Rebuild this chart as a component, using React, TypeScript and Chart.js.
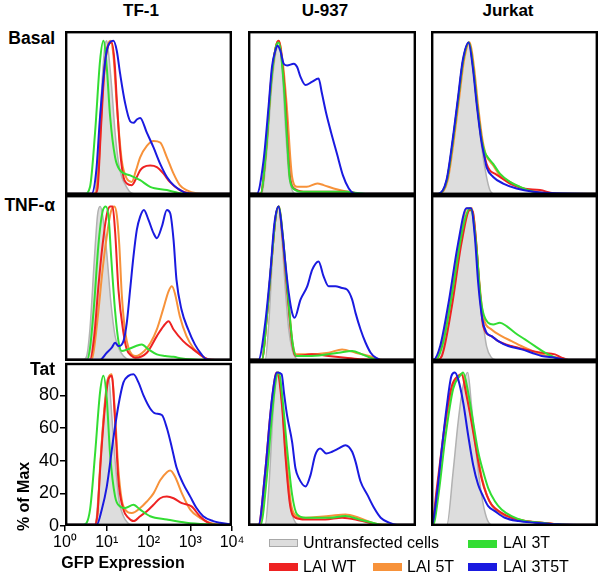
import React, { useEffect, useRef } from 'react';
import { Chart, registerables } from 'chart.js';
Chart.register(...registerables);

const FONT = '"Liberation Sans", Arial, Helvetica, sans-serif';
Chart.defaults.font.family = FONT;

type P = [number, number]; // [log10 GFP, % of max]

const CELL_LINES = ['TF-1', 'U-937', 'Jurkat'];
const CONDITIONS = ['Basal', 'TNF-α', 'Tat'];
const SERIES_NAMES = ['Untransfected cells', 'LAI WT', 'LAI 5T', 'LAI 3T', 'LAI 3T5T'];
const X_TICKS = [1, 10, 100, 1000, 10000];
const Y_TICKS = [0, 20, 40, 60, 80];
const X_TITLE = 'GFP Expression';
const Y_TITLE = '% of Max';

// ---------- TF-1 ----------
const TF1_BASAL_UNT: P[] = [[0,0.8],[0.7,0.8],[0.8,25],[0.88,65],[0.95,90],[1.0,94],[1.05,85],[1.12,65],[1.2,38],[1.28,20],[1.36,11],[1.45,6],[1.55,2],[1.65,0.8],[4,0.8]];
const TF1_BASAL_WT: P[] = [[0,0.8],[0.72,0.8],[0.78,4],[0.86,40],[0.95,78],[1.05,92],[1.12,93],[1.19,80],[1.24,58],[1.32,27],[1.4,11],[1.48,7],[1.6,6],[1.72,11],[1.8,15],[1.88,17],[2.04,18],[2.2,17],[2.36,13],[2.51,8],[2.75,3],[2.99,1],[3.1,0.8],[4,0.8]];
const TF1_BASAL_5T: P[] = [[0,0.8],[0.72,0.8],[0.8,15],[0.9,62],[1.0,88],[1.08,94],[1.16,85],[1.24,55],[1.36,21],[1.48,10],[1.6,8],[1.7,15],[1.8,23],[1.96,30],[2.12,33],[2.28,32],[2.44,23],[2.6,13],[2.75,6],[2.91,3],[3.15,1],[3.3,0.8],[4,0.8]];
const TF1_BASAL_3T: P[] = [[0,0.8],[0.48,0.8],[0.6,5],[0.72,38],[0.84,82],[0.92,94],[1.0,78],[1.08,48],[1.2,23],[1.32,15],[1.56,12],[1.8,9],[2.04,5],[2.44,3],[2.68,1.5],[2.85,0.8],[4,0.8]];
const TF1_BASAL_3T5T: P[] = [[0,0.8],[0.64,0.8],[0.75,15],[0.84,48],[1.0,88],[1.16,94],[1.24,88],[1.32,74],[1.44,56],[1.56,45],[1.64,44],[1.72,46],[1.8,47],[1.96,38],[2.12,29],[2.28,19],[2.44,11],[2.6,6],[2.76,3],[2.92,1],[3.1,0.8],[4,0.8]];

const TF1_TNF_UNT: P[] = [[0,0.8],[0.45,0.8],[0.52,3],[0.6,20],[0.7,60],[0.78,88],[0.84,93],[0.9,88],[1.0,65],[1.1,35],[1.2,15],[1.3,7],[1.4,3],[1.55,0.8],[4,0.8]];
const TF1_TNF_WT: P[] = [[0,0.8],[0.6,0.8],[0.7,15],[0.8,45],[0.9,70],[1.0,88],[1.08,93],[1.14,93],[1.2,78],[1.28,43],[1.4,17],[1.48,7],[1.6,3],[1.68,2],[1.96,5],[2.2,15],[2.36,21],[2.48,24],[2.6,19],[2.83,12],[3.07,7],[3.23,4],[3.43,1],[3.6,0.8],[4,0.8]];
const TF1_TNF_5T: P[] = [[0,0.8],[0.64,0.8],[0.7,8],[0.8,30],[0.9,55],[1.0,75],[1.1,90],[1.18,93],[1.24,88],[1.3,70],[1.36,40],[1.44,18],[1.52,8],[1.6,4],[1.7,3],[1.9,6],[2.05,11],[2.2,19],[2.36,32],[2.48,42],[2.56,45],[2.63,41],[2.75,27],[2.91,15],[3.07,8],[3.23,4],[3.43,1],[3.6,0.8],[4,0.8]];
const TF1_TNF_3T: P[] = [[0,0.8],[0.53,0.8],[0.6,8],[0.7,35],[0.8,70],[0.9,90],[0.98,93],[1.05,85],[1.1,65],[1.2,30],[1.28,12],[1.36,6],[1.5,7],[1.7,9],[1.84,10],[2.0,7],[2.2,4],[2.4,3],[2.6,2.5],[2.8,1.5],[3.0,1],[3.2,0.8],[4,0.8]];
const TF1_TNF_3T5T: P[] = [[0,0.8],[0.84,0.8],[1.0,5],[1.12,8],[1.2,11],[1.28,9],[1.4,12],[1.48,23],[1.56,43],[1.64,63],[1.72,79],[1.8,87],[1.89,91],[2.0,85],[2.12,77],[2.2,74],[2.32,81],[2.44,91],[2.52,89],[2.6,73],[2.67,49],[2.79,31],[2.95,19],[3.11,10],[3.27,4],[3.39,1],[3.5,0.8],[4,0.8]];

const TF1_TAT_UNT: P[] = [[0,0.8],[0.72,0.8],[0.8,20],[0.9,60],[1.0,88],[1.05,91],[1.1,75],[1.2,40],[1.3,15],[1.4,6],[1.5,2],[1.6,0.8],[4,0.8]];
const TF1_TAT_WT: P[] = [[0,0.8],[0.72,0.8],[0.78,8],[0.84,34],[0.96,74],[1.04,90],[1.12,92],[1.2,64],[1.28,28],[1.4,10],[1.52,5],[1.64,3],[1.8,6],[1.96,9],[2.12,13],[2.28,17],[2.44,18],[2.6,17],[2.8,14],[3.03,12],[3.23,6],[3.43,2],[3.63,0.8],[4,0.8]];
const TF1_TAT_5T: P[] = [[0,0.8],[0.72,0.8],[0.78,8],[0.84,36],[0.96,76],[1.04,91],[1.12,93],[1.2,68],[1.28,34],[1.4,12],[1.6,8],[1.8,11],[1.96,15],[2.12,20],[2.28,28],[2.44,33],[2.52,34],[2.64,30],[2.8,20],[3.0,10],[3.23,5],[3.47,2],[3.71,0.8],[4,0.8]];
const TF1_TAT_3T: P[] = [[0,0.8],[0.44,0.8],[0.6,10],[0.72,44],[0.84,82],[0.92,92],[1.0,78],[1.08,44],[1.2,18],[1.32,12],[1.44,11],[1.64,13],[1.8,10],[2.04,6],[2.44,4],[2.91,2],[3.39,1],[3.6,0.8],[4,0.8]];
const TF1_TAT_3T5T: P[] = [[0,0.8],[0.76,0.8],[0.88,10],[1.0,24],[1.16,54],[1.28,74],[1.4,88],[1.52,92],[1.64,93],[1.76,88],[1.88,80],[2.04,72],[2.16,69],[2.32,68],[2.44,60],[2.56,48],[2.67,36],[2.83,26],[3.0,18],[3.15,11],[3.31,6],[3.55,3],[3.71,2],[4,1]];

// ---------- U-937 ----------
const U937_BASAL_UNT: P[] = [[0,0.8],[0.33,0.8],[0.45,27],[0.57,68],[0.67,88],[0.73,93],[0.81,78],[0.89,42],[0.97,13],[1.05,3],[1.13,0.8],[4,0.8]];
const U937_BASAL_WT: P[] = [[0,0.8],[0.3,0.8],[0.43,28],[0.55,70],[0.66,90],[0.73,94],[0.82,80],[0.89,58],[1.0,11],[1.13,3.5],[1.4,2],[2.44,2],[2.6,0.8],[4,0.8]];
const U937_BASAL_5T: P[] = [[0,0.8],[0.3,0.8],[0.43,27],[0.55,68],[0.66,90],[0.73,94],[0.84,78],[0.93,52],[1.05,11],[1.17,5],[1.4,5],[1.65,7],[1.8,6],[2.04,4],[2.36,2],[2.6,0.8],[4,0.8]];
const U937_BASAL_3T: P[] = [[0,0.8],[0.3,0.8],[0.43,27],[0.55,68],[0.66,90],[0.73,93],[0.85,68],[0.93,34],[1.0,9],[1.13,3],[1.25,2],[1.65,2],[2.36,2],[2.52,1.5],[2.84,0.8],[4,0.8]];
const U937_BASAL_3T5T: P[] = [[0,0.8],[0.21,0.8],[0.37,21],[0.49,54],[0.57,78],[0.65,88],[0.7,91],[0.77,88],[0.85,80],[0.93,79],[1.09,80],[1.17,78],[1.25,72],[1.37,67],[1.52,69],[1.68,71],[1.76,62],[1.86,50],[1.98,38],[2.12,25],[2.26,12],[2.4,4],[2.52,1],[2.6,0.8],[4,0.8]];

const U937_TNF_UNT: P[] = [[0,0.8],[0.41,0.8],[0.5,25],[0.6,70],[0.68,90],[0.73,93],[0.81,73],[0.89,43],[0.97,19],[1.05,7],[1.13,2],[1.2,0.8],[4,0.8]];
const U937_TNF_WT: P[] = [[0,0.8],[0.33,0.8],[0.45,27],[0.57,63],[0.66,87],[0.73,93],[0.82,75],[0.93,43],[1.05,11],[1.13,3],[1.52,4],[1.92,3],[2.32,2],[2.72,1],[3.0,0.8],[4,0.8]];
const U937_TNF_5T: P[] = [[0,0.8],[0.33,0.8],[0.45,27],[0.57,63],[0.66,87],[0.74,93],[0.83,75],[0.94,43],[1.06,11],[1.15,4],[1.37,4],[1.92,5],[2.24,7],[2.56,5],[2.88,3],[3.2,0.8],[4,0.8]];
const U937_TNF_3T: P[] = [[0,0.8],[0.33,0.8],[0.45,27],[0.57,63],[0.66,87],[0.73,93],[0.83,75],[0.94,43],[1.06,11],[1.15,3],[1.52,3],[2.16,5],[2.48,6],[2.72,4],[2.96,1.5],[3.1,0.8],[4,0.8]];
const U937_TNF_3T5T: P[] = [[0,0.8],[0.25,0.8],[0.41,23],[0.53,53],[0.63,83],[0.73,93],[0.82,77],[0.89,59],[0.97,41],[1.05,29],[1.11,26],[1.25,37],[1.41,45],[1.53,55],[1.68,60],[1.8,51],[1.92,45],[2.08,45],[2.24,44],[2.36,43],[2.48,37],[2.56,29],[2.68,19],[2.8,11],[2.92,5],[3.04,2],[3.15,0.8],[4,0.8]];

const U937_TAT_UNT: P[] = [[0,0.8],[0.41,0.8],[0.5,25],[0.6,70],[0.68,90],[0.73,93],[0.81,73],[0.89,43],[0.97,19],[1.05,7],[1.13,2],[1.2,0.8],[4,0.8]];
const U937_TAT_WT: P[] = [[0,0.8],[0.25,0.8],[0.41,33],[0.53,67],[0.65,91],[0.69,93],[0.81,73],[0.89,43],[1.0,13],[1.13,5],[1.37,4],[1.84,4],[2.24,5],[2.56,4],[2.88,2],[3.2,0.8],[4,0.8]];
const U937_TAT_5T: P[] = [[0,0.8],[0.28,0.8],[0.43,30],[0.55,67],[0.66,90],[0.72,93],[0.82,73],[0.91,43],[1.02,14],[1.15,6],[1.29,5],[1.92,6],[2.32,7],[2.64,5],[2.96,2],[3.2,0.8],[4,0.8]];
const U937_TAT_3T: P[] = [[0,0.8],[0.3,0.8],[0.45,30],[0.57,67],[0.67,90],[0.73,93],[0.83,75],[0.93,47],[1.05,19],[1.17,7],[1.37,5],[1.92,5],[2.32,6],[2.64,4],[2.96,2],[3.2,0.8],[4,0.8]];
const U937_TAT_3T5T: P[] = [[0,0.8],[0.25,0.8],[0.41,33],[0.57,77],[0.69,93],[0.8,92],[0.86,80],[0.93,67],[1.05,51],[1.13,35],[1.21,29],[1.37,24],[1.49,31],[1.6,43],[1.72,47],[1.86,44],[2.0,45],[2.16,47],[2.32,49],[2.48,45],[2.56,39],[2.68,27],[2.84,19],[3.0,11],[3.16,5],[3.36,2],[3.55,0.8],[4,0.8]];

// ---------- Jurkat ----------
const JUR_BASAL_UNT: P[] = [[0,0.8],[0.18,0.8],[0.38,9],[0.53,34],[0.65,58],[0.77,82],[0.91,93],[1.01,78],[1.11,54],[1.21,30],[1.33,11],[1.41,3],[1.49,0.8],[4,0.8]];
const JUR_BASAL_WT: P[] = [[0,0.8],[0.18,0.8],[0.38,9],[0.53,34],[0.65,58],[0.77,82],[0.91,93],[1.01,78],[1.11,54],[1.21,34],[1.29,23],[1.33,19],[1.41,15],[1.53,13],[1.65,11],[1.89,7],[2.21,4],[2.61,3],[2.93,1],[3.1,0.8],[4,0.8]];
const JUR_BASAL_5T: P[] = [[0,0.8],[0.2,0.8],[0.4,9],[0.55,34],[0.67,58],[0.79,82],[0.93,93],[1.03,78],[1.13,54],[1.23,34],[1.31,25],[1.49,18],[1.65,12],[1.89,8],[2.21,4],[2.53,2],[2.85,0.8],[4,0.8]];
const JUR_BASAL_3T: P[] = [[0,0.8],[0.18,0.8],[0.38,9],[0.53,34],[0.65,58],[0.77,82],[0.91,93],[1.01,78],[1.11,54],[1.21,34],[1.29,26],[1.33,24],[1.49,19],[1.65,13],[1.89,8],[2.13,5],[2.45,2],[2.69,0.8],[4,0.8]];
const JUR_BASAL_3T5T: P[] = [[0,0.8],[0.17,0.8],[0.37,9],[0.52,34],[0.64,58],[0.76,82],[0.9,93],[1.0,78],[1.1,54],[1.2,34],[1.29,22],[1.33,17],[1.49,11],[1.73,7],[2.05,4],[2.45,2],[3.0,1],[4,0.8]];

const JUR_TNF_UNT: P[] = [[0,0.8],[0.18,0.8],[0.42,23],[0.65,63],[0.81,83],[0.93,91],[1.01,87],[1.13,53],[1.25,23],[1.33,9],[1.45,2],[1.55,0.8],[4,0.8]];
const JUR_TNF_WT: P[] = [[0,0.8],[0.15,0.8],[0.26,3],[0.5,33],[0.73,71],[0.93,91],[1.0,90],[1.08,72],[1.16,45],[1.25,21],[1.45,15],[1.61,12],[1.93,9],[2.25,7],[2.65,5],[2.97,4],[3.13,2],[3.3,0.8],[4,0.8]];
const JUR_TNF_5T: P[] = [[0,0.8],[0.08,0.8],[0.24,9],[0.44,35],[0.67,71],[0.87,92],[0.98,92],[1.07,75],[1.15,50],[1.25,27],[1.45,19],[1.69,15],[1.93,12],[2.25,8],[2.65,4],[3.05,2],[3.3,0.8],[4,0.8]];
const JUR_TNF_3T: P[] = [[0,0.8],[0.12,0.8],[0.3,12],[0.5,40],[0.77,81],[0.93,92],[1.0,88],[1.1,65],[1.18,40],[1.25,29],[1.37,23],[1.49,22],[1.65,23],[1.81,21],[2.01,17],[2.25,13],[2.49,9],[2.73,5],[2.97,2],[3.1,0.8],[4,0.8]];
const JUR_TNF_3T5T: P[] = [[0,0.8],[0.06,0.8],[0.22,9],[0.42,35],[0.65,71],[0.85,92],[0.96,92],[1.05,75],[1.13,47],[1.23,25],[1.33,17],[1.45,15],[1.61,12],[1.85,9],[2.17,7],[2.41,5],[2.65,3],[2.97,2],[3.21,0.8],[4,0.8]];

const JUR_TAT_UNT: P[] = [[0,0.8],[0.38,0.8],[0.53,33],[0.65,63],[0.77,85],[0.88,93],[0.97,73],[1.09,43],[1.21,19],[1.33,5],[1.45,0.8],[4,0.8]];
const JUR_TAT_WT: P[] = [[0,0.8],[0.02,0.8],[0.14,23],[0.34,63],[0.5,85],[0.65,91],[0.73,92],[0.85,79],[0.97,63],[1.09,45],[1.21,29],[1.33,19],[1.45,13],[1.69,8],[1.93,5],[2.25,3],[2.65,2],[3.05,1],[3.4,0.8],[4,0.8]];
const JUR_TAT_5T: P[] = [[0,0.8],[0.03,0.8],[0.15,22],[0.35,62],[0.52,85],[0.67,91],[0.75,92],[0.87,79],[0.99,62],[1.11,44],[1.23,28],[1.35,18],[1.47,12],[1.71,7],[1.95,5],[2.27,3],[2.67,2],[3.05,1],[3.4,0.8],[4,0.8]];
const JUR_TAT_3T: P[] = [[0,0.8],[0.05,0.8],[0.18,19],[0.34,53],[0.53,83],[0.69,91],[0.77,93],[0.89,81],[1.01,63],[1.13,45],[1.25,33],[1.37,23],[1.53,15],[1.69,10],[1.93,6],[2.25,3],[2.65,2],[3.0,1],[3.3,0.8],[4,0.8]];
const JUR_TAT_3T5T: P[] = [[0,0.8],[0.02,0.8],[0.14,19],[0.26,47],[0.38,73],[0.49,91],[0.57,93],[0.65,89],[0.77,75],[0.89,55],[1.01,37],[1.13,25],[1.25,18],[1.37,12],[1.53,9],[1.77,5],[2.09,3],[2.49,2],[3.05,1],[3.5,0.8],[4,0.8]];

// grid of panels [row][col], series order = SERIES_NAMES
const PANEL_DATA: P[][][][] = [
  [
    [TF1_BASAL_UNT, TF1_BASAL_WT, TF1_BASAL_5T, TF1_BASAL_3T, TF1_BASAL_3T5T],
    [U937_BASAL_UNT, U937_BASAL_WT, U937_BASAL_5T, U937_BASAL_3T, U937_BASAL_3T5T],
    [JUR_BASAL_UNT, JUR_BASAL_WT, JUR_BASAL_5T, JUR_BASAL_3T, JUR_BASAL_3T5T],
  ],
  [
    [TF1_TNF_UNT, TF1_TNF_WT, TF1_TNF_5T, TF1_TNF_3T, TF1_TNF_3T5T],
    [U937_TNF_UNT, U937_TNF_WT, U937_TNF_5T, U937_TNF_3T, U937_TNF_3T5T],
    [JUR_TNF_UNT, JUR_TNF_WT, JUR_TNF_5T, JUR_TNF_3T, JUR_TNF_3T5T],
  ],
  [
    [TF1_TAT_UNT, TF1_TAT_WT, TF1_TAT_5T, TF1_TAT_3T, TF1_TAT_3T5T],
    [U937_TAT_UNT, U937_TAT_WT, U937_TAT_5T, U937_TAT_3T, U937_TAT_3T5T],
    [JUR_TAT_UNT, JUR_TAT_WT, JUR_TAT_5T, JUR_TAT_3T, JUR_TAT_3T5T],
  ],
];

// ---------- styles & layout ----------
const SERIES_STYLE = [
  { line: '#b2b2b2', fill: '#dddddd', width: 1.5, order: 5 },
  { line: '#ee2222', fill: '', width: 2, order: 3 },
  { line: '#f7923a', fill: '', width: 2, order: 4 },
  { line: '#33dd33', fill: '', width: 2, order: 2 },
  { line: '#1a1ae0', fill: '', width: 2, order: 1 },
];
const COLS: [number, number][] = [[65, 232], [248, 416], [431, 598]];
const ROWS: [number, number][] = [[31, 195], [195, 361], [361, 526]];
const SUP = ['⁰', '¹', '²', '³', '⁴'];

const framePlugin = {
  id: 'frame',
  afterDatasetsDraw(chart: any) {
    const { ctx, chartArea } = chart;
    const { left, top, right, bottom } = chartArea;
    ctx.save();
    ctx.strokeStyle = '#000';
    ctx.lineWidth = 2.4;
    ctx.strokeRect(left + 1.2, top + 1.2, right - left - 2.4, bottom - top - 2.4);
    ctx.restore();
  },
};

function buildDatasets(series: P[][]) {
  return series.map((pts, i) => {
    const st = SERIES_STYLE[i];
    return {
      label: SERIES_NAMES[i],
      data: pts.map(([lg, y]) => ({ x: Math.pow(10, lg), y })),
      borderColor: st.line,
      backgroundColor: st.fill || st.line,
      borderWidth: st.width,
      fill: st.fill ? 'origin' : false,
      order: st.order,
      pointRadius: 0,
      cubicInterpolationMode: 'monotone' as const,
    };
  });
}

function Panel({ row, col }: { row: number; col: number }) {
  const ref = useRef<HTMLCanvasElement>(null);
  const axes = row === 2 && col === 0;
  const [l, r] = COLS[col];
  const [t, b] = ROWS[row];
  const padL = axes ? 50 : 0;
  const padT = axes ? 10 : 0;
  const padR = axes ? 20 : 0;
  const padB = axes ? 30 : 0;
  const left = l - padL;
  const top = t - padT;
  const width = r - l + padL + padR;
  const height = b - t + padT + padB;

  useEffect(() => {
    const chart = new Chart(ref.current as HTMLCanvasElement, {
      type: 'line',
      data: { datasets: buildDatasets(PANEL_DATA[row][col]) as any },
      options: {
        responsive: false,
        animation: false,
        layout: { padding: axes ? { left: 0, top: padT, right: padR, bottom: 0 } : 0 },
        plugins: { legend: { display: false }, tooltip: { enabled: false } },
        scales: {
          x: {
            type: 'logarithmic',
            min: 1,
            max: 10000,
            display: axes,
            afterBuildTicks: (s: any) => { s.ticks = X_TICKS.map((v) => ({ value: v })); },
            afterFit: (s: any) => { s.height = padB; },
            grid: { drawOnChartArea: false, drawTicks: true, tickLength: 5, color: '#000', lineWidth: 1.5 },
            border: { display: false },
            ticks: {
              autoSkip: false,
              maxRotation: 0,
              padding: 2,
              color: '#000',
              font: { size: 16, family: FONT },
              callback: (v: any) => '10' + SUP[Math.round(Math.log10(Number(v)))],
            },
          },
          y: {
            type: 'linear',
            min: 0,
            max: 100,
            display: axes,
            afterBuildTicks: (s: any) => { s.ticks = Y_TICKS.map((v) => ({ value: v })); },
            afterFit: (s: any) => { s.width = padL; },
            grid: { drawOnChartArea: false, drawTicks: true, tickLength: 5, color: '#000', lineWidth: 1.5 },
            border: { display: false },
            ticks: { padding: 1, color: '#000', font: { size: 18, family: FONT } },
          },
        },
      } as any,
      plugins: [framePlugin],
    });
    return () => chart.destroy();
  }, []);

  return (
    <canvas
      ref={ref}
      width={width}
      height={height}
      style={{ position: 'absolute', left, top, width, height }}
    />
  );
}

function Txt({ x, y, text, size, bold, align = 'center', rotate = false }: any) {
  const w = 300;
  const lh = size * 1.2;
  let leftPos = x - w / 2;
  if (align === 'right') leftPos = x - w;
  if (align === 'left') leftPos = x;
  return (
    <div
      style={{
        position: 'absolute',
        left: leftPos,
        top: y - 0.59 * size,
        width: w,
        height: lh,
        lineHeight: `${lh}px`,
        fontSize: size,
        fontWeight: bold ? 'bold' : 'normal',
        fontFamily: FONT,
        textAlign: align,
        whiteSpace: 'nowrap',
        color: '#000',
        transform: rotate ? 'rotate(-90deg)' : undefined,
        transformOrigin: rotate ? `${w / 2}px ${0.59 * size}px` : undefined,
      }}
    >
      {text}
    </div>
  );
}

function Swatch({ x, y, color, border }: any) {
  return (
    <div
      style={{
        position: 'absolute',
        left: x,
        top: y,
        width: 29,
        height: 8,
        background: color,
        boxSizing: 'border-box',
        border: border ? `1px solid ${border}` : 'none',
      }}
    />
  );
}

export default function App() {
  const panels = [];
  for (let r = 0; r < 3; r++) for (let c = 0; c < 3; c++) panels.push(<Panel key={`${r}-${c}`} row={r} col={c} />);
  const colCenters = [141, 325, 508];
  const rowCenters = [38, 205, 369];
  return (
    <div style={{ position: 'absolute', left: 0, top: 0, width: 600, height: 576, background: '#fff', overflow: 'hidden' }}>
      {panels}
      {CELL_LINES.map((name, i) => (
        <Txt key={name} x={colCenters[i]} y={11} text={name} size={17} bold />
      ))}
      {CONDITIONS.map((name, i) => (
        <Txt key={name} x={55} y={rowCenters[i]} text={name} size={17.5} bold align="right" />
      ))}
      <Txt x={23} y={496} text={Y_TITLE} size={16} bold rotate />
      <Txt x={123} y={562} text={X_TITLE} size={16} bold />
      <Swatch x={269} y={539} color={SERIES_STYLE[0].fill} border="#a8a8a8" />
      <Txt x={303} y={542} text={SERIES_NAMES[0]} size={16} align="left" />
      <Swatch x={468} y={540} color={SERIES_STYLE[3].line} />
      <Txt x={503} y={542} text={SERIES_NAMES[3]} size={16} align="left" />
      <Swatch x={269} y={563} color={SERIES_STYLE[1].line} />
      <Txt x={303} y={566} text={SERIES_NAMES[1]} size={16} align="left" />
      <Swatch x={373} y={563} color={SERIES_STYLE[2].line} />
      <Txt x={407} y={566} text={SERIES_NAMES[2]} size={16} align="left" />
      <Swatch x={468} y={563} color={SERIES_STYLE[4].line} />
      <Txt x={503} y={566} text={SERIES_NAMES[4]} size={16} align="left" />
    </div>
  );
}
